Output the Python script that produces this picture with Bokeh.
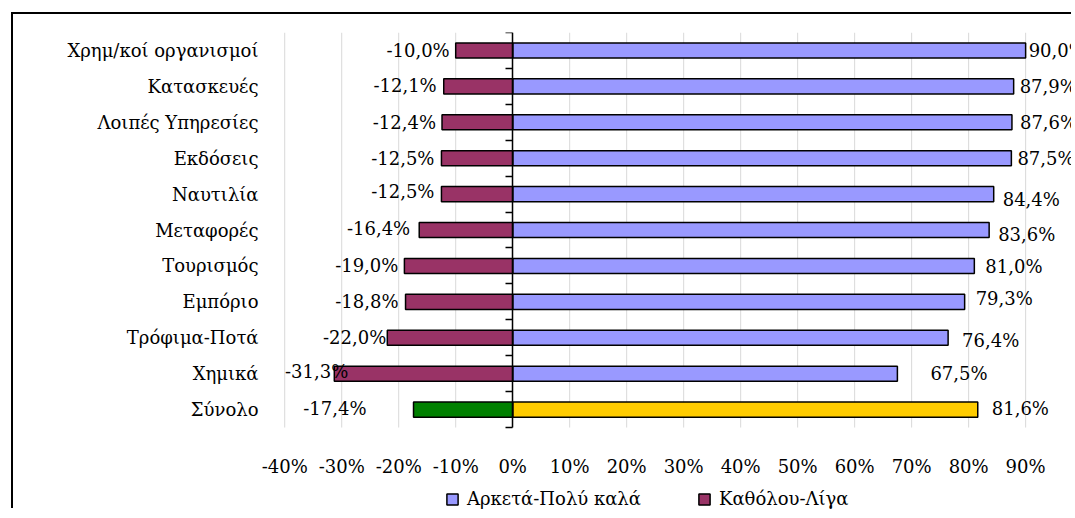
from bokeh.plotting import figure
from bokeh.models import (ColumnDataSource, Range1d, LinearAxis, FixedTicker,
                          PrintfTickFormatter, CustomJSTickFormatter, LabelSet,
                          Legend, LegendItem)
from bokeh.core.properties import value
from bokeh.embed import file_html
from bokeh.resources import INLINE

# Survey results per sector (share of answers, %)
categories = ["Χρημ/κοί οργανισμοί", "Κατασκευές", "Λοιπές Υπηρεσίες", "Εκδόσεις",
              "Ναυτιλία", "Μεταφορές", "Τουρισμός", "Εμπόριο", "Τρόφιμα-Ποτά",
              "Χημικά", "Σύνολο"]
very_good = [90.0, 87.9, 87.6, 87.5, 84.4, 83.6, 81.0, 79.3, 76.4, 67.5, 81.6]
not_at_all = [-10.0, -12.1, -12.4, -12.5, -12.5, -16.4, -19.0, -18.8, -22.0, -31.3, -17.4]
x_ticks = [-40, -30, -20, -10, 0, 10, 20, 30, 40, 50, 60, 70, 80, 90]
series_names = ["Αρκετά-Πολύ καλά", "Καθόλου-Λίγα"]

# per-label nudges in screen pixels (gap from bar end, vertical shift)
good_gap = [3, 6, 8, 6, 9, 9, 11, 11, 14, 33, 14]
good_dy = [0, 0, 0, 0, -5, -4, -1, 3, -3, 0, 1]
bad_gap = [6, 7, 6, 7, 7, 9, 6, 7, 1, -14, 47]
bad_dy = [0, 1, 0, 0, 3, 2, 0, 0, 0, 2, 1]

FONT = "DejaVu Serif"
FSIZE = "18px"
TOTAL = "Σύνολο"
n = len(categories)


def pct(v):
    return f"{v:.1f}%".replace(".", ",")


# first category on top: row i sits in slot [n-1-i, n-i]
ypos = [n - i - 0.5 for i in range(n)]

src = ColumnDataSource(dict(
    cat=categories,
    y=ypos,
    good=very_good,
    bad=not_at_all,
    good_color=["#FFCC00" if c == TOTAL else "#9999FF" for c in categories],
    bad_color=["#008000" if c == TOTAL else "#993366" for c in categories],
    good_lbl=[pct(v) for v in very_good],
    bad_lbl=[pct(v) for v in not_at_all],
    good_dx=good_gap,
    good_dy=good_dy,
    bad_dx=[-g for g in bad_gap],
    bad_dy=bad_dy,
))

# the plot area reaches the bottom edge: the % axis sits at y=0 and the
# legend goes underneath it, inside the plot area
p = figure(width=1060, height=496,
           y_range=Range1d(-2.31, n), x_range=Range1d(-44.6, 98.4),
           output_backend="svg", toolbar_location=None,
           min_border_left=245, min_border_right=0,
           min_border_top=18, min_border_bottom=0)
p.margin = (12, 0, 0, 11)
p.styles = {"border-left": "2px solid black", "border-top": "2px solid black"}
p.outline_line_color = None
p.background_fill_color = "white"
p.border_fill_color = "white"

# category labels on the left
cat_axis = p.yaxis[0]
cat_axis.ticker = FixedTicker(ticks=ypos)
cat_axis.formatter = CustomJSTickFormatter(
    args=dict(labels=categories),
    code="return labels[labels.length - 1 - Math.floor(tick)];")
cat_axis.axis_line_color = None
cat_axis.major_tick_line_color = None
cat_axis.minor_tick_line_color = None
cat_axis.major_tick_out = 0
cat_axis.major_tick_in = 0
cat_axis.major_label_standoff = 0
cat_axis.major_label_text_font = FONT
cat_axis.major_label_text_font_size = FSIZE
cat_axis.major_label_text_color = "black"

# percentage axis, anchored under the last bar
xa = p.xaxis[0]
xa.fixed_location = 0
xa.ticker = FixedTicker(ticks=x_ticks)
xa.formatter = PrintfTickFormatter(format="%d%%")
xa.axis_line_color = None
xa.major_tick_line_color = None
xa.minor_tick_line_color = None
xa.major_tick_out = 0
xa.major_tick_in = 0
xa.major_label_standoff = 28
xa.major_label_text_font = FONT
xa.major_label_text_font_size = FSIZE
xa.major_label_text_color = "black"

# vertical grid lines only over the bar rows
p.xgrid.visible = False
p.ygrid.visible = False
p.segment(x0=x_ticks, y0=[0] * len(x_ticks), x1=x_ticks, y1=[n] * len(x_ticks),
          line_color="#d9d9d9", line_width=1, level="underlay")

# vertical zero line with ticks at the category boundaries
zero_axis = LinearAxis(fixed_location=0, bounds=(0, n),
                       ticker=FixedTicker(ticks=list(range(n + 1))),
                       formatter=CustomJSTickFormatter(code="return ''"),
                       axis_line_color="black", axis_line_width=1.5,
                       major_tick_line_color="black", major_tick_line_width=1.5,
                       major_tick_out=7, major_tick_in=0,
                       minor_tick_line_color=None, major_label_standoff=0)
p.add_layout(zero_axis, "left")

r_good = p.hbar(y="y", left=0, right="good", height=0.42, source=src,
                fill_color="good_color", line_color="black", line_width=1.5)
r_bad = p.hbar(y="y", left="bad", right=0, height=0.42, source=src,
               fill_color="bad_color", line_color="black", line_width=1.5)

good_labels = LabelSet(x="good", y="y", text="good_lbl", source=src,
                       x_offset="good_dx", y_offset="good_dy",
                       text_align="left", text_baseline="middle",
                       text_font=value(FONT), text_font_size=value(FSIZE),
                       text_color="black")
bad_labels = LabelSet(x="bad", y="y", text="bad_lbl", source=src,
                      x_offset="bad_dx", y_offset="bad_dy",
                      text_align="right", text_baseline="middle",
                      text_font=value(FONT), text_font_size=value(FSIZE),
                      text_color="black")
p.add_layout(good_labels)
p.add_layout(bad_labels)

legend = Legend(items=[LegendItem(label=series_names[0], renderers=[r_good], index=0),
                       LegendItem(label=series_names[1], renderers=[r_bad], index=0)],
                location=(187, 1), orientation="horizontal",
                glyph_width=14, glyph_height=14, label_standoff=8,
                label_width=183, spacing=47,
                padding=0, margin=0, border_line_color=None,
                background_fill_alpha=0,
                label_text_font=FONT, label_text_font_size=FSIZE,
                label_text_color="black")
p.add_layout(legend, "center")

open("out.html", "w").write(file_html(p, INLINE))
